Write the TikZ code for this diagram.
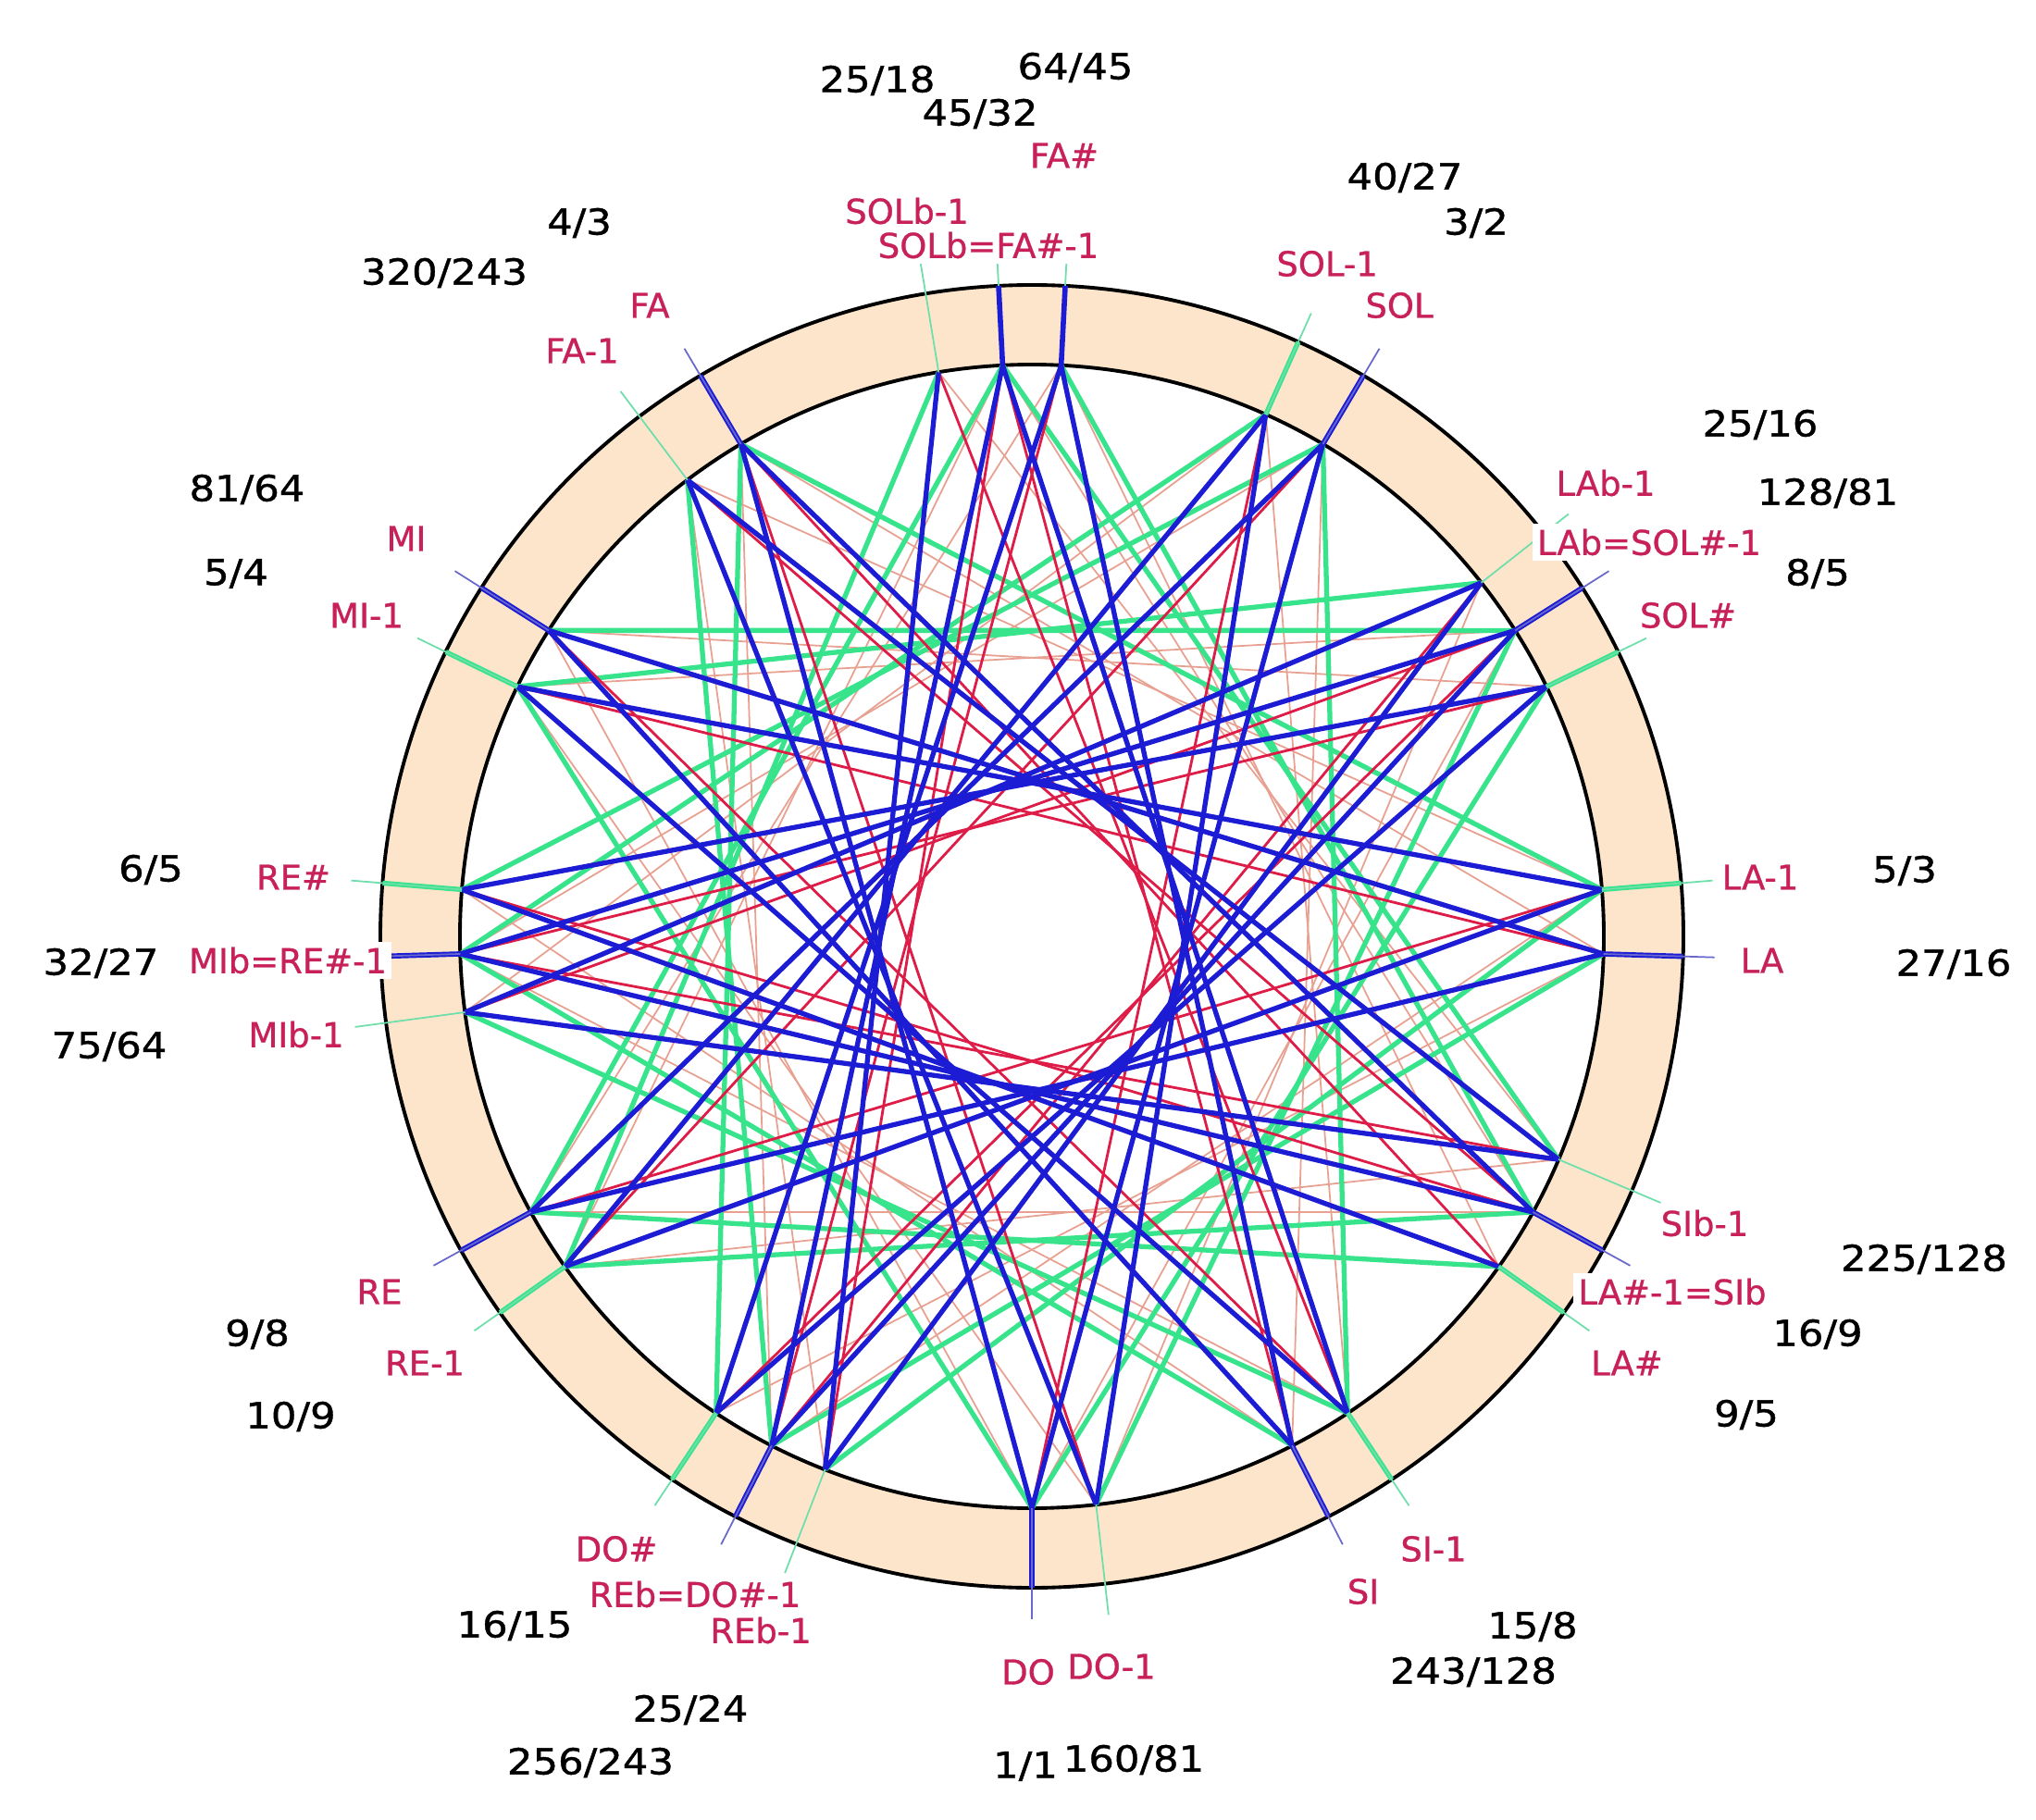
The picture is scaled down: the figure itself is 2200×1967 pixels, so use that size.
\documentclass[tikz,border=0pt]{standalone}
\usepackage{fontspec}
\setmainfont{DejaVu Sans}
\newfontfamily\notefont{DejaVu Sans}[FakeBold=0.8]
\newfontfamily\ratiofont{DejaVu Sans}[FakeStretch=1.12,FakeBold=1]
\definecolor{fifthblue}{RGB}{28,28,212}
\definecolor{thirdgreen}{RGB}{55,228,140}
\definecolor{wolfred}{RGB}{222,28,72}
\definecolor{pinkthin}{RGB}{232,160,145}
\definecolor{ringfill}{RGB}{253,229,204}
\definecolor{tickblue}{RGB}{105,105,205}
\definecolor{tickgreen}{RGB}{110,222,170}
\definecolor{notered}{RGB}{200,32,88}
\newcommand\defnote[2]{%
  \coordinate (#1) at ({1115-618*sin(0.3*#2)},{1012+618*cos(0.3*#2)});
  \coordinate (#1-o) at ({1115-704*sin(0.3*#2)},{1012+704*cos(0.3*#2)});
  \coordinate (#1-t) at ({1115-738*sin(0.3*#2)},{1012+738*cos(0.3*#2)});
}
\begin{document}
\begin{tikzpicture}[x=0.01cm,y=-0.01cm,
  fifth/.style={draw=fifthblue,line width=1.5pt},
  third/.style={draw=thirdgreen,line width=1.5pt},
  wolf/.style={draw=wolfred,line width=0.8pt},
  pinkl/.style={draw=pinkthin,line width=0.5pt},
  tickb/.style={draw=tickblue,line width=0.5pt},
  tickg/.style={draw=tickgreen,line width=0.5pt},
  ringb/.style={draw=fifthblue,line width=1.6pt},
  ringg/.style={draw=thirdgreen,line width=1.5pt},
  ringline/.style={draw=black,line width=1.1pt},
  notelab/.style={text=notered,fill=white,inner sep=1.5pt,font=\notefont\fontsize{10.5}{12}\selectfont},
  ratiolab/.style={text=black,fill=white,inner sep=1.5pt,font=\ratiofont\fontsize{11}{13}\selectfont}]
\useasboundingbox (0,0) rectangle (2200,1967);
\fill[white] (0,0) rectangle (2200,1967);
\coordinate (c) at (1115,1012);
\fill[ringfill,even odd rule] (c) circle[radius=704] (c) circle[radius=618];
\draw[ringline] (c) circle[radius=704];
\draw[ringline] (c) circle[radius=618];
% notes: b=0
\defnote{p5m}{90.225}
\defnote{p4m}{792.180}
\defnote{p3m}{294.135}
\defnote{p2m}{996.090}
\defnote{p1m}{498.045}
\defnote{p0}{0}
\defnote{p1}{701.955}
\defnote{p2}{203.910}
\defnote{p3}{905.865}
\defnote{p4}{407.820}
\defnote{p5}{1109.775}
% b=1
\defnote{q5m}{476.539}
\defnote{q4m}{1178.494}
\defnote{q3m}{680.449}
\defnote{q2m}{182.404}
\defnote{q1m}{884.359}
\defnote{q0}{386.314}
\defnote{q1}{1088.269}
\defnote{q2}{590.224}
% b=-1
\defnote{r2m}{609.776}
\defnote{r1m}{111.731}
\defnote{r0}{813.686}
\defnote{r1}{315.641}
\defnote{r2}{1017.596}
% b=2
\defnote{s2m}{568.717}
\defnote{s1m}{70.672}
\defnote{s0}{772.627}
\defnote{s1}{274.582}
\defnote{s2}{976.537}
% thin salmon lines: Pythagorean thirds
\foreach \a/\b in {p5m/p1m,p4m/p0,p3m/p1,p2m/p2,p1m/p3,p0/p4,p1/p5,q5m/q1m,q4m/q0,q3m/q1,q2m/q2,r2m/r2,s2m/s2,q1m/p5m,q0/p4m,q1/p3m,q2/p2m,p2/r2m,p3/r1m,p4/r0,p5/r1,s1m/q5m,s0/q4m,s1/q3m,s2/q2m}
  \draw[pinkl] (\a) -- (\b);
% green thirds
\foreach \a/\b in {r2m/p2m,r1m/p1m,r0/p0,r1/p1,r2/p2,p5m/q5m,p4m/q4m,p3m/q3m,p2m/q2m,p1m/q1m,p0/q0,p1/q1,p2/q2,q2m/s2m,q1m/s1m,q0/s0,q1/s1,q2/s2,p3/p5m,p4/p4m,p5/p3m}
  \draw[third] (\a) -- (\b);
% crimson wolf fifths
\foreach \a/\b in {r2m/p5m,r1m/p4m,r0/p3m,r1/p2m,r2/p1m,p2m/q5m,p1m/q4m,p0/q3m,p1/q2m,p2/q1m,p3/q0,p4/q1,p5/q2,q1/s2m,q2/s1m,p5m/s0,p4m/s1,p3m/s2}
  \draw[wolf] (\a) -- (\b);
% blue fifths
\foreach \a/\b in {p5m/p4m,p4m/p3m,p3m/p2m,p2m/p1m,p1m/p0,p0/p1,p1/p2,p2/p3,p3/p4,p4/p5,q5m/q4m,q4m/q3m,q3m/q2m,q2m/q1m,q1m/q0,q0/q1,q1/q2,r2m/r1m,r1m/r0,r0/r1,r1/r2,s2m/s1m,s1m/s0,s0/s1,s1/s2,q2/p5m,p5/r2m,s2/q5m}
  \draw[fifth] (\a) -- (\b);
% ticks
\foreach \n in {q3m,q2m,q1m,q0,q1,r1m,r0,r1,r2}
  \draw[ringg] (\n) -- (\n-o);
\foreach \n in {q2,r2m,q3m,q2m,q1m,q0,q1,r1m,r0,r1,r2,q5m,q4m,s2m,s1m,s0,s1,s2}
  \draw[tickg] (\n) -- (\n-t);
\foreach \n in {p5m,p4m,p3m,p2m,p1m,p0,p1,p2,p3,p4,p5,q2,r2m}
  \draw[ringb] (\n) -- (\n-o);
\foreach \n in {p5m,p4m,p3m,p2m,p1m,p0,p1,p2,p3,p4,p5}
  \draw[tickb] (\n) -- (\n-t);
% note labels
\node[notelab] (lFAs) at (1150,168) {FA\#};
\node[notelab] (lSOLbm) at (980,228) {SOLb-1};
\node[notelab] (lSOLb) at (1068,265) {SOLb=FA\#-1};
\node[notelab] (lSOLm) at (1434,285) {SOL-1};
\node[notelab] (lSOL) at (1512,330) {SOL};
\node[notelab] (lFA) at (702,330) {FA};
\node[notelab] (lFAm) at (629,379) {FA-1};
\node[notelab] (lLAbm) at (1735,522) {LAb-1};
\node[notelab] (lLAb) at (1782,586) {LAb=SOL\#-1};
\node[notelab] (lSOLs) at (1824,665) {SOL\#};
\node[notelab] (lMI) at (439,582) {MI};
\node[notelab] (lMIm) at (396,665) {MI-1};
\node[notelab] (lREs) at (317,948) {RE\#};
\node[notelab] (lMIb) at (311,1038) {MIb=RE\#-1};
\node[notelab] (lMIbm) at (320,1118) {MIb-1};
\node[notelab] (lLAm) at (1902,948) {LA-1};
\node[notelab] (lLA) at (1904,1038) {LA};
\node[notelab] (lSIbm) at (1842,1322) {SIb-1};
\node[notelab] (lSIb) at (1807,1396) {LA\#-1=SIb};
\node[notelab] (lLAs) at (1758,1473) {LA\#};
\node[notelab] (lRE) at (410,1396) {RE};
\node[notelab] (lREm) at (459,1473) {RE-1};
\node[notelab] (lDOs) at (666,1674) {DO\#};
\node[notelab] (lREbm) at (822,1762) {REb-1};
\node[notelab] (lREb) at (751,1723) {REb=DO\#-1};
\node[notelab] (lDO) at (1111,1807) {DO};
\node[notelab] (lDOm) at (1201,1801) {DO-1};
\node[notelab] (lSIm) at (1549,1674) {SI-1};
\node[notelab] (lSI) at (1473,1720) {SI};
% ratio labels
\node[ratiolab] (r6445) at (1162,73) {64/45};
\node[ratiolab] (r2518) at (948,87) {25/18};
\node[ratiolab] (r4532) at (1059,123) {45/32};
\node[ratiolab] (r4027) at (1518,192) {40/27};
\node[ratiolab] (r32) at (1595,241) {3/2};
\node[ratiolab] (r43) at (626,241) {4/3};
\node[ratiolab] (r320243) at (480,295) {320/243};
\node[ratiolab] (r2516) at (1902,459) {25/16};
\node[ratiolab] (r12881) at (1975,533) {128/81};
\node[ratiolab] (r85) at (1964,620) {8/5};
\node[ratiolab] (r8164) at (267,529) {81/64};
\node[ratiolab] (r54) at (255,620) {5/4};
\node[ratiolab] (r65) at (163,940) {6/5};
\node[ratiolab] (r3227) at (109,1041) {32/27};
\node[ratiolab] (r7564) at (118,1131) {75/64};
\node[ratiolab] (r53) at (2058,941) {5/3};
\node[ratiolab] (r2716) at (2111,1042) {27/16};
\node[ratiolab] (r225128) at (2079,1361) {225/128};
\node[ratiolab] (r169) at (1964,1442) {16/9};
\node[ratiolab] (r95) at (1887,1529) {9/5};
\node[ratiolab] (r98) at (278,1442) {9/8};
\node[ratiolab] (r109) at (314,1531) {10/9};
\node[ratiolab] (r1615) at (556,1757) {16/15};
\node[ratiolab] (r2524) at (746,1848) {25/24};
\node[ratiolab] (r256243) at (638,1905) {256/243};
\node[ratiolab] (r11) at (1108,1909) {1/1};
\node[ratiolab] (r16081) at (1225,1902) {160/81};
\node[ratiolab] (r158) at (1656,1758) {15/8};
\node[ratiolab] (r243128) at (1592,1807) {243/128};
\end{tikzpicture}
\end{document}
